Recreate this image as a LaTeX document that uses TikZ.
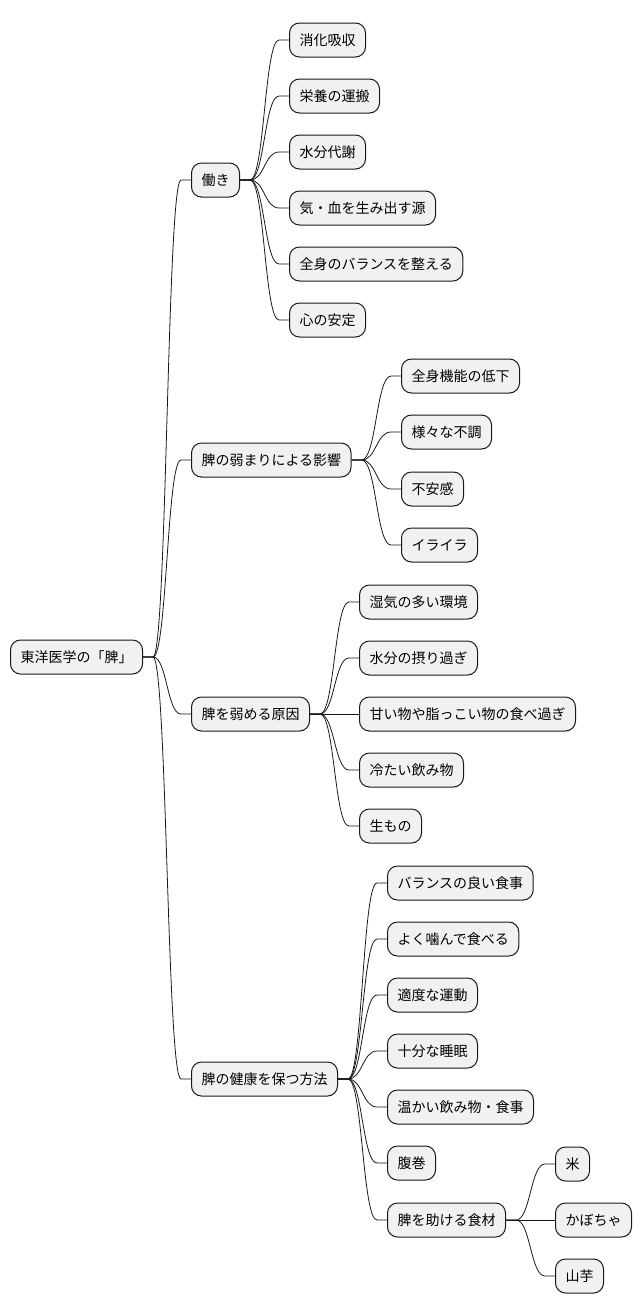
\documentclass[tikz,border=0pt]{standalone}
\usepackage{fontspec}
\newfontfamily\cjk{Noto Sans CJK JP}
\usetikzlibrary{calc}
\definecolor{BoxFill}{HTML}{F1F1F1}
\definecolor{Ink}{HTML}{181818}

\begin{document}
\begin{tikzpicture}[x=1pt,y=-1pt,
  topic/.style={draw=Ink,fill=BoxFill,line width=1pt,rounded corners=10pt,anchor=west,
    minimum height=34pt,inner xsep=10pt,font=\cjk\fontsize{14}{16}\selectfont},
  link/.style={draw=Ink,line width=0.8pt}]
  \useasboundingbox (0,0) rectangle (642,1315);

  \node[topic] (root) at (10,657) {東洋医学の「脾」};

  \node[topic] (hataraki) at (191,180) {働き};
  \node[topic] (eikyo) at (191,460) {脾の弱まりによる影響};
  \node[topic] (genin) at (191,714) {脾を弱める原因};
  \node[topic] (hoho) at (191,1079) {脾の健康を保つ方法};

  \node[topic] (h1) at (289,40) {消化吸収};
  \node[topic] (h2) at (289,96) {栄養の運搬};
  \node[topic] (h3) at (289,152) {水分代謝};
  \node[topic] (h4) at (289,208) {気・血を生み出す源};
  \node[topic] (h5) at (289,264) {全身のバランスを整える};
  \node[topic] (h6) at (289,320) {心の安定};

  \node[topic] (e1) at (401,376) {全身機能の低下};
  \node[topic] (e2) at (401,432) {様々な不調};
  \node[topic] (e3) at (401,489) {不安感};
  \node[topic] (e4) at (401,545) {イライラ};

  \node[topic] (g1) at (359,602) {湿気の多い環境};
  \node[topic] (g2) at (359,658) {水分の摂り過ぎ};
  \node[topic] (g3) at (359,714) {甘い物や脂っこい物の食べ過ぎ};
  \node[topic] (g4) at (359,770) {冷たい飲み物};
  \node[topic] (g5) at (359,826) {生もの};

  \node[topic] (k1) at (387,883) {バランスの良い食事};
  \node[topic] (k2) at (387,939) {よく噛んで食べる};
  \node[topic] (k3) at (387,995) {適度な運動};
  \node[topic] (k4) at (387,1051) {十分な睡眠};
  \node[topic] (k5) at (387,1107) {温かい飲み物・食事};
  \node[topic] (k6) at (387,1163) {腹巻};
  \node[topic] (k7) at (387,1220) {脾を助ける食材};

  \node[topic] (s1) at (555,1164) {米};
  \node[topic] (s2) at (555,1220) {かぼちゃ};
  \node[topic] (s3) at (555,1276) {山芋};

  % branches
  \foreach \a/\b in {root/hataraki,root/eikyo,root/genin,root/hoho,
      hataraki/h1,hataraki/h2,hataraki/h3,hataraki/h4,hataraki/h5,hataraki/h6,
      eikyo/e1,eikyo/e2,eikyo/e3,eikyo/e4,
      genin/g1,genin/g2,genin/g3,genin/g4,genin/g5,
      hoho/k1,hoho/k2,hoho/k3,hoho/k4,hoho/k5,hoho/k6,hoho/k7,
      k7/s1,k7/s2,k7/s3}{
    \draw[link] let \p1=(\a.east), \p2=(\b.west) in
      (\p1) -- (\x1+10pt,\y1)
      .. controls (0.5*\x1+0.5*\x2,\y1) and (0.5*\x1+0.5*\x2,\y2) ..
      (\x2-10pt,\y2) -- (\p2);
  }
\end{tikzpicture}
\end{document}
